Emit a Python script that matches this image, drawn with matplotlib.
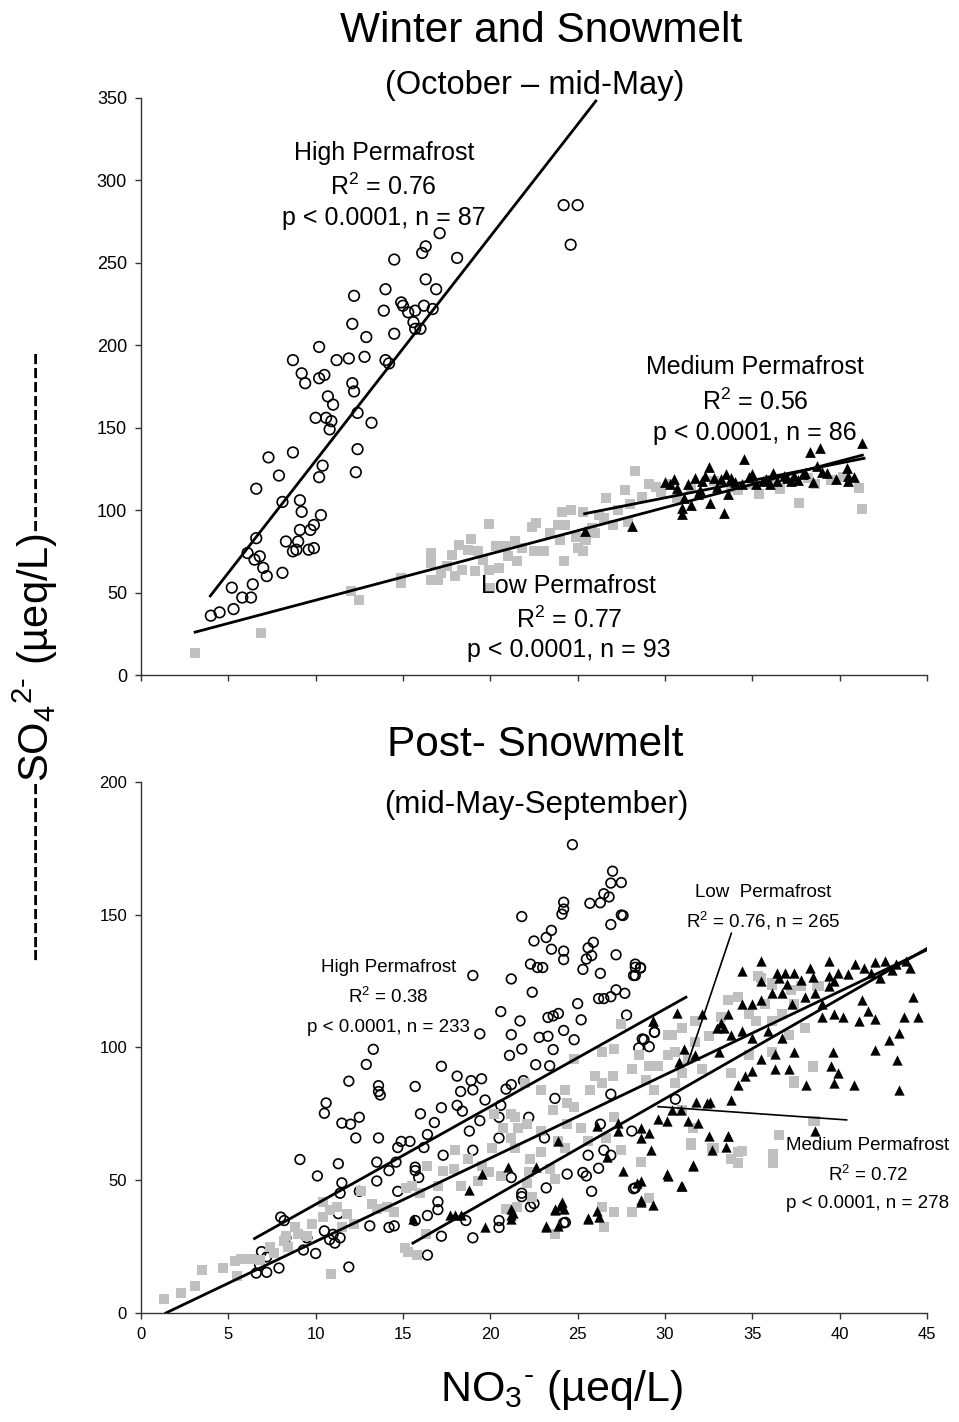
import matplotlib
matplotlib.use("Agg")
import matplotlib.pyplot as plt
import numpy as np

plt.rcParams['font.family'] = ['Liberation Sans', 'DejaVu Sans']
plt.rcParams['mathtext.fontset'] = 'custom'
plt.rcParams['mathtext.rm'] = 'Liberation Sans'
plt.rcParams['mathtext.it'] = 'Liberation Sans:italic'
plt.rcParams['mathtext.default'] = 'regular'

# ---------------- Winter and Snowmelt (top) ----------------
top_high_x = [4.0, 4.5, 5.3, 5.2, 5.8, 6.3, 6.4, 7.0, 7.2, 8.1, 6.5, 6.1, 6.8, 6.6, 6.6, 7.3, 7.9, 8.1,
              8.7, 8.7, 9.2, 9.4, 9.1, 9.2, 9.1, 9.0, 8.3, 8.7, 8.9, 9.6, 9.9, 9.7, 9.9, 10.3, 10.4,
              10.2, 10.2, 10.2, 10.5, 10.0, 10.6, 10.9, 10.8, 10.7, 11.0, 11.2, 11.9, 12.1, 12.2,
              12.1, 12.2, 12.4, 12.4, 12.3, 12.8, 12.9, 13.2, 13.9, 14.0, 14.0, 14.2, 14.5, 14.5,
              14.9, 15.0, 15.3, 15.7, 15.6, 15.7, 16.0, 16.2, 16.1, 16.3, 16.3, 16.7, 16.9, 17.1,
              18.1, 24.2, 25.0, 24.6]
top_high_y = [36, 38, 40, 53, 47, 47, 55, 65, 60, 62, 70, 74, 72, 83, 113, 132, 121, 105,
              135, 191, 183, 177, 106, 99, 88, 81, 81, 75, 76, 76, 77, 88, 91, 97, 127,
              120, 199, 180, 182, 156, 156, 154, 149, 169, 164, 191, 192, 213, 230,
              177, 172, 159, 137, 123, 193, 205, 153, 221, 234, 191, 189, 207, 252,
              226, 224, 220, 221, 214, 210, 210, 224, 256, 260, 240, 222, 234, 268,
              253, 285, 285, 261]

top_low_x = [3.1, 6.9, 12.0, 12.5, 14.9, 14.9, 16.6, 16.6, 16.6, 17.0, 17.8, 18.2, 18.9, 18.75,
             19.3, 18.4, 19.1, 19.9, 20.5, 20.0, 19.9, 20.3, 20.9, 21.4, 21.5, 22.4, 22.6, 22.5,
             23.05, 24.1, 24.6, 23.9, 24.3, 24.2, 24.0, 24.9, 25.3, 25.3, 25.5, 26.0, 28.3, 27.7,
             29.1, 29.5, 27.0, 27.9, 26.6, 26.2, 25.8, 25.4, 25.0, 35.4, 36.6, 37.7, 38.6, 38.2,
             41.3, 41.1, 30.3, 32.8, 33.8, 35.0, 30.7, 17.2, 17.5, 18.0, 19.6, 21.0, 21.8, 23.4,
             26.5, 27.3, 28.0, 28.7, 29.8, 31.5, 34.2, 36.0, 39.5, 40.2]
top_low_y = [13.3, 25.5, 50.7, 45.6, 55.8, 59, 57.8, 68, 74, 57.8, 73, 79, 82.6, 76,
             75, 64, 63, 64, 65, 52.8, 91.3, 78, 78, 81, 69, 90, 92, 75,
             75, 99, 100, 91, 91, 69, 82, 84, 99, 75, 82, 86, 124, 112,
             116, 114, 91, 93, 107.5, 97, 89, 83, 77, 109.5, 112.6, 104.5, 115.6, 119.7,
             100.4, 113.6, 115.6, 117.6, 113.6, 115.6, 107.5, 62, 66, 60, 70, 72, 77, 86,
             95, 100, 104, 108, 111, 114, 112, 118, 118, 120]

top_med_x = [41.3, 38.3, 38.9, 34.5, 32.5, 30.3, 30.7, 31.1, 31.0, 31.0, 31.5, 32.6, 33.4, 33.6,
             34.4, 35.2, 36.2, 37.0, 37.9, 38.7, 39.3, 40.5, 40.5, 40.4, 31.7, 32.1, 32.8, 33.2,
             33.8, 35.0, 35.6, 36.4, 37.2, 38.0, 28.1, 25.4, 31.9, 37.4, 30.0, 30.5, 31.3, 32.3,
             33.0, 34.0, 34.8, 35.8, 36.8, 37.6, 38.5, 39.0, 39.8, 40.8, 32.0, 33.5, 36.0]
top_med_y = [141, 135, 138, 131, 126, 115.6, 113.6, 107.5, 101.4, 97.4, 103.4, 104.5, 98.4, 109.5,
             115.6, 115.6, 122.7, 119.7, 121.7, 126.8, 122.7, 120.7, 117.6, 125.8, 119.7, 117.6,
             119.7, 118.7, 119.7, 121.7, 117.6, 117.6, 117.6, 122.7, 90.3, 87.2, 109.5, 120.7,
             117, 119, 116, 121, 114, 117, 120, 119, 121, 118, 117, 123, 119, 120, 112, 122, 116]

# trendlines: slope, intercept, x range
top_fit_slope = [13.6, 2.81, 2.10]
top_fit_icpt = [-6.0, 17.3, 44.5]
top_fit_x0 = [3.97, 3.1, 25.4]
top_fit_x1 = [26.5, 41.3, 41.4]

# ---------------- Post-Snowmelt (bottom) ----------------
bot_high_x = [13.3, 12.9, 11.9, 13.6, 13.6, 13.7, 10.6, 10.5, 11.5, 12.0, 12.5, 12.3, 13.6, 14.7,
              9.1, 10.1, 11.3, 14.6, 14.2, 13.5, 11.4, 12.5, 14.7, 8.0, 8.2, 11.3, 10.5, 11.0,
              11.4, 11.1, 10.8, 13.1, 14.2, 14.5, 9.5, 9.3, 10.0, 11.9, 7.9, 7.2, 6.9, 7.2, 6.6,
              6.8, 8.3, 11.5, 13.5, 14.9,
              24.7, 27.0, 26.9, 27.5, 26.5, 26.8, 26.3, 25.7, 24.2, 24.2, 24.1, 21.8, 27.5, 26.9,
              23.5, 23.2, 22.5, 25.9, 25.6, 23.5, 25.8, 25.5, 24.2, 24.2, 27.2, 22.3, 22.7, 23.0,
              25.3, 26.3, 28.3, 28.6, 28.3, 19.0, 21.2, 22.4, 25.0, 26.2, 26.5, 26.9, 27.2, 27.7,
              20.6, 21.7, 23.3, 23.6, 23.9, 25.2, 19.4, 21.2, 22.8, 23.3, 24.2, 24.8, 27.8, 29.1,
              29.4, 28.7, 21.1, 21.8, 22.6, 23.6, 23.4, 17.2, 18.1, 18.9, 18.3, 19.0, 19.5, 15.7,
              21.9, 21.2, 20.9, 19.7, 18.1, 16.0, 17.2, 18.4, 20.6, 16.8, 19.4, 20.5, 22.2, 18.8,
              16.4, 15.4, 16.2, 20.5, 23.7, 26.9, 23.1, 19.0, 17.3, 15.7, 15.7, 15.9, 21.2, 25.3,
              25.5, 26.2, 26.5, 25.6, 26.9, 28.1, 25.8, 23.2, 21.8, 21.8, 22.3, 22.5, 24.4, 17.0,
              17.0, 16.4, 15.7, 18.6, 20.5, 20.5, 24.3, 17.2, 19.0, 16.4, 28.3, 26.3,
              28.3, 28.6, 28.2, 27.6, 29.4, 28.5, 28.8, 30.6, 28.2, 24.2]
bot_high_y = [99.3, 93.6, 87.3, 85.6, 83.4, 82.1, 79.1, 75.2, 71.5, 71.1, 73.7, 65.9, 65.9, 62.3,
              57.8, 51.6, 56.2, 56.8, 53.6, 49.7, 45.1, 45.8, 45.8, 36.1, 34.8, 37.4, 30.9, 29.6,
              28.3, 26.3, 27.6, 32.8, 32.2, 32.8, 28.3, 23.7, 22.4, 17.3, 16.9, 21.1, 23.1, 15.3, 15.0,
              17.9, 28.3, 49.0, 56.8, 64.6,
              176.4, 166.4, 161.9, 162.1, 157.9, 156.7, 154.5, 154.3, 154.7, 152.1, 150.2, 149.3, 149.9, 146.3,
              144.1, 141.4, 140.1, 139.6, 137.5, 137.0, 134.6, 133.3, 136.3, 133.1, 134.9, 131.4, 130.1, 130.1,
              129.4, 127.9, 131.4, 130.1, 127.1, 127.1, 125.8, 120.8, 116.5, 118.4, 118.4, 119.1, 121.7, 120.4,
              113.5, 110.0, 111.3, 111.9, 112.8, 110.4, 105.1, 104.8, 103.8, 104.2, 106.4, 102.9, 112.2, 100.3,
              105.7, 103.2, 97.0, 99.4, 93.5, 99.2, 93.1, 92.9, 89.2, 87.5, 83.4, 84.0, 88.2, 85.3,
              87.5, 86.0, 84.3, 80.2, 78.2, 75.0, 77.3, 76.0, 78.2, 71.7, 72.4, 73.7, 73.7, 68.5,
              67.2, 64.6, 62.3, 65.9, 80.8, 82.4, 65.9, 61.3, 59.4, 54.9, 53.6, 51.0, 51.0, 52.9,
              51.6, 54.5, 61.3, 59.4, 59.4, 68.5, 45.8, 47.1, 45.1, 43.8, 40.0, 41.2, 52.3, 41.9,
              38.9, 36.7, 34.8, 34.8, 34.8, 32.2, 34.1, 28.9, 28.3, 21.8, 47.1, 71.1,
              130.2, 129.9, 127.1, 149.7, 105.8, 99.8, 103.0, 80.5, 46.8, 33.9]

bot_low_x = [1.3, 2.3, 3.1, 3.5, 4.7, 5.4, 5.7, 6.3, 6.8, 5.5, 7.4, 8.2, 8.3, 9.0, 8.8, 9.8, 10.4,
             10.8, 11.2, 11.8, 11.5, 12.2, 12.6, 13.2, 13.5, 14.1, 14.5, 15.2, 15.3, 10.9, 7.6, 8.4,
             9.5, 10.4,
             15.1, 15.8, 16.3, 16.4, 17.3, 18.0, 19.3, 19.9, 20.6, 21.2, 21.6, 22.3, 22.2, 22.9,
             23.4, 23.9, 24.3, 24.4, 24.8, 24.4, 25.2, 23.6, 21.4, 22.1, 22.1, 22.4, 21.5, 20.9,
             23.7, 26.5, 27.1, 26.4, 28.1, 29.1, 28.6, 27.5, 26.6, 27.1, 26.0, 26.4, 27.0, 27.5,
             26.4, 27.1, 28.1, 28.5, 29.1, 29.6, 30.2, 30.2, 29.4, 28.9, 24.8, 24.3, 25.7, 22.9,
             22.0, 21.2, 20.7, 20.1, 19.5, 18.7, 17.9, 17.0, 16.0, 15.5, 20.2, 21.4, 22.9, 25.6,
             23.7, 18.3,
             35.5, 36.1, 33.6, 34.2, 33.2, 34.8, 35.2, 35.7, 36.1, 36.7, 37.8, 38.8, 37.4, 37.1,
             38.0, 30.4, 31.0, 31.7, 31.7, 32.5, 30.6, 31.3, 32.1, 33.8, 34.8, 36.1, 30.6, 31.0,
             38.5, 37.4, 31.5, 32.7, 33.8, 34.2, 36.2, 36.5, 38.6, 31.0, 31.6,
             38.5, 36.5, 36.2, 34.4, 34.2, 31.5, 32.8, 33.8, 37.4, 38.5, 37.2, 38.7, 35.3, 36.1]
bot_low_y = [5.2, 7.5, 10.1, 16.0, 16.9, 19.5, 20.5, 20.2, 19.8, 14.0, 25.0, 27.0, 28.9, 29.6, 32.2,
             33.5, 36.1, 38.7, 40.0, 37.4, 32.2, 33.5, 45.8, 41.2, 39.3, 40.0, 38.0, 47.1, 23.1, 14.7,
             22.4, 25.0, 28.9, 41.9,
             24.4, 21.8, 29.6, 55.5, 53.6, 61.3, 49.7, 52.9, 51.6, 65.9, 69.8, 58.1, 52.9, 60.7,
             54.2, 64.6, 62.0, 71.1, 77.6, 78.9, 69.8, 76.3, 73.7, 71.1, 49.0, 43.8, 40.0, 39.3,
             29.6, 32.2, 38.0, 40.0, 38.0, 43.2, 56.8, 61.3, 65.9, 73.7, 89.2, 86.6, 89.2, 108.7,
             98.3, 99.6, 91.8, 97.0, 93.1, 93.1, 104.8, 97.0, 84.0, 87.9, 95.7, 84.0, 84.0, 84.0,
             86.6, 75.0, 69.8, 62.0, 55.5, 58.1, 54.2, 47.7, 45.1, 47.7, 75.0, 62.0, 68.5, 64.6,
             50.3, 47.7,
             126.2, 124.3, 117.8, 119.1, 111.3, 112.6, 110.0, 116.5, 110.0, 112.6, 123.0, 123.0, 116.5, 104.8,
             107.4, 104.8, 107.4, 110.0, 102.2, 104.2, 98.3, 95.7, 91.8, 90.5, 97.0, 98.3, 86.6, 90.5,
             92.5, 86.6, 63.3, 62.0, 58.1, 60.7, 60.0, 67.2, 72.4, 76.3, 69.8,
             72.2, 67.2, 56.5, 60.9, 56.5, 64.0, 62.1, 57.8, 87.3, 92.9, 121.8, 123.0, 126.8, 123.7]

bot_med_x = [29.3, 26.1, 27.3, 28.6, 29.1, 29.2, 30.1, 29.6, 28.6, 28.6, 26.2, 25.6, 24.2, 23.7,
             23.2, 23.9, 21.2, 21.2, 19.7, 17.7, 18.0, 18.3, 15.6, 18.8, 19.5, 21.0, 22.6, 23.9,
             27.6, 26.7, 24.1, 28.6, 27.3,
             34.4, 35.5, 36.4, 36.9, 37.4, 38.3, 39.4, 39.9, 40.9, 41.4, 42.0, 42.6, 43.2, 43.8,
             44.2, 44.5, 43.7, 43.4, 42.8, 42.0, 43.3, 43.4, 41.3, 41.6, 42.0, 39.7, 40.2, 41.1,
             39.0, 39.0, 39.4, 38.6, 38.0, 37.3, 36.7, 36.1, 35.5, 35.0, 34.4, 33.6, 33.4, 33.8,
             34.4, 35.0, 35.9, 36.7, 37.4, 39.6, 39.5, 39.9, 39.7, 40.8, 38.1, 34.2, 34.6, 35.0,
             36.3, 37.1, 35.5, 36.3, 33.8, 32.6, 31.8, 30.9, 30.4, 31.3, 32.5, 33.6, 32.7, 33.5,
             31.6, 31.0, 30.1, 38.6, 33.1, 30.8, 31.7, 31.1, 33.0, 32.1,
             30.7, 29.3, 33.2, 31.9, 32.4, 33.6, 30.9, 30.2, 31.6, 29.3, 28.6, 28.4, 26.1, 25.6,
             23.7, 24.0, 23.2, 21.2, 21.3,
             35.5, 36.5, 37.0, 37.8, 38.5, 39.4, 39.7, 40.5, 41.8, 42.3, 43.0, 44.0]
bot_med_y = [110.0, 70.4, 71.5, 69.8, 67.8, 61.3, 72.4, 73.0, 49.7, 41.9, 36.1, 35.4, 39.3, 39.3,
             32.2, 32.8, 36.7, 39.3, 32.2, 36.7, 36.7, 36.7, 35.4, 46.4, 52.3, 54.9, 54.9, 64.6,
             53.6, 58.8, 41.9, 65.9, 68.5,
             128.8, 132.7, 128.1, 128.1, 128.1, 130.1, 132.7, 128.1, 131.4, 130.1, 132.0, 132.7, 131.4, 132.7,
             119.1, 111.3, 111.3, 105.4, 102.9, 99.0, 95.1, 84.0, 117.8, 113.9, 110.6, 112.6, 111.3, 110.0,
             116.5, 111.3, 123.0, 120.4, 119.1, 116.5, 120.4, 120.4, 117.8, 116.5, 116.5, 112.6, 107.4, 104.8,
             106.1, 103.5, 106.1, 103.5, 98.3, 98.3, 93.1, 90.5, 86.6, 86.0, 86.0, 86.0, 89.2, 91.2,
             91.8, 91.8, 95.7, 97.7, 80.2, 79.5, 79.5, 76.3, 76.3, 72.4, 66.5, 66.5, 61.3, 62.6,
             55.5, 47.7, 52.3, 68.5, 98.3, 94.4, 97.0, 99.6, 107.4, 112.6,
             113.0, 109.9, 109.2, 71.6, 79.1, 66.5, 47.7, 51.5, 55.9, 40.8, 42.7, 49.0, 38.3, 35.8,
             38.9, 40.2, 32.6, 35.2, 37.7,
             125.0, 126.0, 124.0, 125.5, 126.5, 127.0, 125.0, 127.5, 128.0, 126.0, 129.0, 130.0]

bot_fit_slope = [3.68, 3.14, 3.77]
bot_fit_icpt = [4.1, -4.5, -32.4]
bot_fit_x0 = [6.5, 1.43, 15.57]
bot_fit_x1 = [31.2, 45.0, 45.0]

grey = '#c0c0c0'
fig = plt.figure(figsize=(9.59, 14.22), dpi=100)
ax1 = fig.add_axes([0.147, 0.5253, 0.8196, 0.4058])
ax2 = fig.add_axes([0.147, 0.0767, 0.8196, 0.3734])


def style(ax, ymax, lsize):
    ax.set_xlim(0, 45)
    ax.set_ylim(0, ymax)
    ax.set_xticks(np.arange(0, 46, 5))
    ax.set_yticks(np.arange(0, ymax + 1, 50))
    for s in ['top', 'right']:
        ax.spines[s].set_visible(False)
    for s in ['left', 'bottom']:
        ax.spines[s].set_color('#333333')
        ax.spines[s].set_linewidth(1.0)
    ax.tick_params(direction='out', length=4, width=1, color='#333333', labelsize=lsize, pad=6)


def fits(ax, slope, icpt, x0, x1, ymax):
    for m, b, a, c in zip(slope, icpt, x0, x1):
        xx = np.linspace(a, c, 50)
        yy = m * xx + b
        keep = yy <= ymax
        ax.plot(xx[keep], yy[keep], color='black', lw=2.0, zorder=5)


# top panel
ax1.scatter(top_high_x, top_high_y, s=58, facecolors='none', edgecolors='black', linewidths=1.2, zorder=3)
ax1.scatter(top_low_x, top_low_y, s=52, marker='s', color=grey, linewidths=0, zorder=2)
ax1.scatter(top_med_x, top_med_y, s=60, marker='^', color='black', linewidths=0, zorder=4)
fits(ax1, top_fit_slope, top_fit_icpt, top_fit_x0, top_fit_x1, 351)
style(ax1, 350, 13)
ax1.tick_params(axis='x', labelbottom=False)

tk = dict(ha='center', va='center', fontsize=18)
ax1.text(13.9, 316.5, 'High Permafrost', **tk)
ax1.text(13.9, 296, 'R$^2$ = 0.76', **tk)
ax1.text(13.9, 277, 'p < 0.0001, n = 87', **tk)
ax1.text(35.15, 187, 'Medium Permafrost', **tk)
ax1.text(35.15, 166, 'R$^2$ = 0.56', **tk)
ax1.text(35.15, 147, 'p < 0.0001, n = 86', **tk)
ax1.text(24.5, 54, 'Low Permafrost', **tk)
ax1.text(24.5, 33.5, 'R$^2$ = 0.77', **tk)
ax1.text(24.5, 15, 'p < 0.0001, n = 93', **tk)

# bottom panel
ax2.scatter(bot_high_x, bot_high_y, s=48, facecolors='none', edgecolors='black', linewidths=1.2, zorder=2)
ax2.scatter(bot_low_x, bot_low_y, s=48, marker='s', color=grey, linewidths=0, zorder=3)
ax2.scatter(bot_med_x, bot_med_y, s=55, marker='^', color='black', linewidths=0, zorder=4)
fits(ax2, bot_fit_slope, bot_fit_icpt, bot_fit_x0, bot_fit_x1, 201)
style(ax2, 200, 12)

nk = dict(ha='center', va='center', fontsize=13.5)
ax2.text(14.15, 130.3, 'High Permafrost', **nk)
ax2.text(14.15, 119, 'R$^2$ = 0.38', **nk)
ax2.text(14.15, 107.7, 'p < 0.0001, n = 233', **nk)
ax2.text(35.6, 158.2, 'Low  Permafrost', **nk)
ax2.text(35.6, 147.6, 'R$^2$ = 0.76, n = 265', **nk)
ax2.plot([33.8, 31.3], [143, 94.1], color='black', lw=1.2, zorder=6)
ax2.text(41.6, 62.9, 'Medium Permafrost', **nk)
ax2.text(41.6, 52, 'R$^2$ = 0.72', **nk)
ax2.text(41.6, 41.4, 'p < 0.0001, n = 278', **nk)
ax2.plot([40.4, 29.6], [72.7, 77.7], color='black', lw=1.2, zorder=6)

# titles and axis labels
fig.text(0.564, 0.978, 'Winter and Snowmelt', ha='center', va='center', fontsize=30.5)
fig.text(0.558, 0.940, '(October \u2013 mid-May)', ha='center', va='center', fontsize=23.5)
fig.text(0.558, 0.476, 'Post- Snowmelt', ha='center', va='center', fontsize=30.5)
fig.text(0.559, 0.434, '(mid-May-September)', ha='center', va='center', fontsize=22.5)
fig.text(0.585, 0.0225, 'NO$_3$$^{\u2010}$ (\u00b5eq/L)', ha='center', va='center', fontsize=31)
fig.text(0.0365, 0.538, '-' * 13 + 'SO$_4$$^{2\u2010}$ (\u00b5eq/L)' + '-' * 13, rotation=90,
         ha='center', va='center', fontsize=30)

fig.savefig('out.png', dpi=100)
